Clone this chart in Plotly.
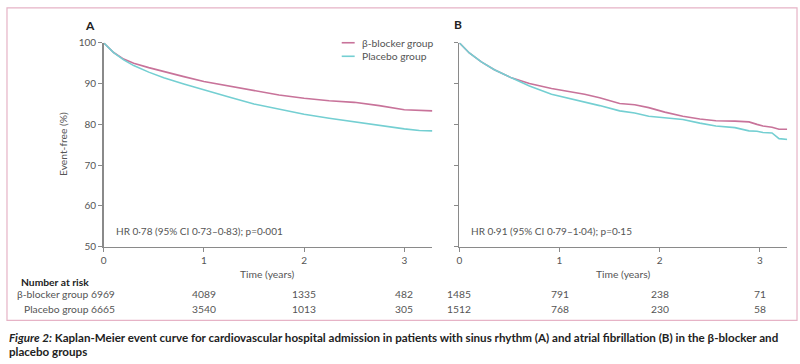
import plotly.graph_objects as go

W, H = 800, 364

# ---------------- data ----------------
t_a = [0, 0.05, 0.1, 0.2, 0.3, 0.45, 0.6, 0.8, 1.0, 1.25, 1.5, 1.75, 2.0, 2.25, 2.5, 2.75, 3.0, 3.15, 3.28]
beta_a = [100, 98.8, 97.6, 96.0, 95.0, 93.9, 92.9, 91.7, 90.5, 89.4, 88.2, 87.2, 86.4, 85.8, 85.4, 84.6, 83.6, 83.4, 83.3]
plac_a = [100, 98.8, 97.6, 95.8, 94.4, 92.8, 91.4, 89.9, 88.4, 86.7, 85.0, 83.7, 82.5, 81.5, 80.6, 79.7, 78.9, 78.5, 78.4]

t_b = [0, 0.05, 0.1, 0.22, 0.35, 0.52, 0.7, 0.92, 1.1, 1.25, 1.4, 1.6, 1.75, 1.89, 2.05, 2.23, 2.4, 2.56, 2.75, 2.89, 2.97, 3.03, 3.12, 3.19, 3.28]
beta_b = [100, 98.7, 97.5, 95.3, 93.4, 91.4, 90.0, 88.8, 88.1, 87.4, 86.5, 85.1, 84.8, 84.1, 83.0, 82.0, 81.3, 80.9, 80.8, 80.6, 80.0, 79.6, 79.3, 78.8, 78.8]
plac_b = [100, 98.7, 97.5, 95.3, 93.4, 91.4, 89.4, 87.4, 86.4, 85.5, 84.6, 83.3, 82.8, 82.0, 81.6, 81.2, 80.3, 79.6, 79.2, 78.4, 78.3, 78.0, 77.9, 76.5, 76.3]

groups = ["β-blocker group", "Placebo group"]
risk_times = [0, 1, 2, 3]
risk_a_beta = [6969, 4089, 1335, 482]
risk_a_plac = [6665, 3540, 1013, 305]
risk_b_beta = [1485, 791, 238, 71]
risk_b_plac = [1512, 768, 230, 58]

y_ticks = [50, 60, 70, 80, 90, 100]
x_ticks = [0, 1, 2, 3]

hr_a = "HR 0·78 (95% CI 0·73–0·83); p=0·001"
hr_b = "HR 0·91 (95% CI 0·79–1·04); p=0·15"

caption1 = ("<i>Figure 2:</i> Kaplan-Meier event curve for cardiovascular hospital admission in patients "
            "with sinus rhythm (A) and atrial fibrillation (B) in the β-blocker and")
caption2 = "placebo groups"

PINK = "#c8739a"
CYAN = "#74cfd2"
AX = "#8a8a8a"
TXT = "#555555"
FONT = "Lato"
FS = 10.3

def px(x):
    return x / W

def py(y):
    return 1 - y / H

fig = go.Figure()
fig.add_trace(go.Scatter(x=t_a, y=beta_a, mode="lines", line=dict(color=PINK, width=1.6), xaxis="x", yaxis="y"))
fig.add_trace(go.Scatter(x=t_a, y=plac_a, mode="lines", line=dict(color=CYAN, width=1.6), xaxis="x", yaxis="y"))
fig.add_trace(go.Scatter(x=t_b, y=beta_b, mode="lines", line=dict(color=PINK, width=1.6), xaxis="x2", yaxis="y2"))
fig.add_trace(go.Scatter(x=t_b, y=plac_b, mode="lines", line=dict(color=CYAN, width=1.6), xaxis="x2", yaxis="y2"))

axis_common = dict(showgrid=False, zeroline=False, showline=True, linecolor=AX, linewidth=1.5,
                   ticks="outside", ticklen=4, tickcolor=AX, tickwidth=1,
                   tickfont=dict(family=FONT, size=10, color=TXT), fixedrange=True)

ydom = [py(249), py(38)]
fig.update_layout(
    width=W, height=H, margin=dict(l=0, r=0, t=0, b=0),
    paper_bgcolor="white", plot_bgcolor="white", showlegend=False,
    xaxis=dict(domain=[px(101), px(431)], range=[0, 3.28], tickvals=x_ticks, anchor="y", **axis_common),
    yaxis=dict(domain=ydom, range=[50, 100], tickvals=y_ticks, anchor="x", **axis_common),
    xaxis2=dict(domain=[px(458), px(787)], range=[0, 3.27], tickvals=x_ticks, anchor="y2", **axis_common),
    yaxis2=dict(domain=ydom, range=[50, 100], tickvals=y_ticks, anchor="x2", showticklabels=False, **axis_common),
)

ann = []
def text(x, y, s, size=FS, color=TXT, xanchor="left", bold=False, **kw):
    ann.append(dict(x=px(x), y=py(y), xref="paper", yref="paper", text=(f"<b>{s}</b>" if bold else s),
                    showarrow=False, xanchor=xanchor, yanchor="middle",
                    font=dict(family=FONT, size=size, color=color), **kw))

# panel labels
text(87, 20, "A", size=12, color="#222", xanchor="center", bold=True)
text(457, 19, "B", size=12, color="#222", xanchor="center", bold=True)
# y title
ann.append(dict(x=px(61), y=py(143), xref="paper", yref="paper", text="Event-free (%)", textangle=-90,
                showarrow=False, xanchor="center", yanchor="middle", font=dict(family=FONT, size=FS, color=TXT)))
# HR
text(111, 233, hr_a, size=10)
text(468, 233, hr_b, size=10)
# x titles
text(265, 277, "Time (years)", xanchor="center")
text(622, 277, "Time (years)", xanchor="center")
# legend
text(358, 38, groups[0])
text(358, 52, groups[1])
# number at risk
text(16, 285, "Number at risk", color="#222", bold=True)
text(114, 298, f"{groups[0]} {risk_a_beta[0]}", xanchor="right")
text(114, 313, f"{groups[1]} {risk_a_plac[0]}", xanchor="right")

def risk(xref, t, n, y):
    ann.append(dict(x=t, y=py(y), xref=xref, yref="paper", text=str(n), showarrow=False,
                    xanchor="center", yanchor="middle", font=dict(family=FONT, size=FS, color=TXT)))

for t, nb, npl in zip(risk_times[1:], risk_a_beta[1:], risk_a_plac[1:]):
    risk("x", t, nb, 298)
    risk("x", t, npl, 313)
for t, nb, npl in zip(risk_times, risk_b_beta, risk_b_plac):
    risk("x2", t, nb, 298)
    risk("x2", t, npl, 313)
# caption
text(4, 343, caption1, size=11.6, color="#222", bold=True)
text(4, 357, caption2, size=11.6, color="#222", bold=True)

fig.update_layout(annotations=ann)

shapes = [
    dict(type="rect", xref="paper", yref="paper", x0=px(4), x1=px(797), y0=py(325), y1=py(2),
         line=dict(color="#e6b3c6", width=1.2)),
    dict(type="line", xref="paper", yref="paper", x0=px(340), x1=px(353), y0=py(38), y1=py(38),
         line=dict(color=PINK, width=1.6)),
    dict(type="line", xref="paper", yref="paper", x0=px(340), x1=px(353), y0=py(52), y1=py(52),
         line=dict(color=CYAN, width=1.6)),
]
fig.update_layout(shapes=shapes)

fig.write_html("out.html", config={"displayModeBar": False, "staticPlot": True},
               post_script="document.body.style.margin='0';document.body.style.overflow='hidden';")
